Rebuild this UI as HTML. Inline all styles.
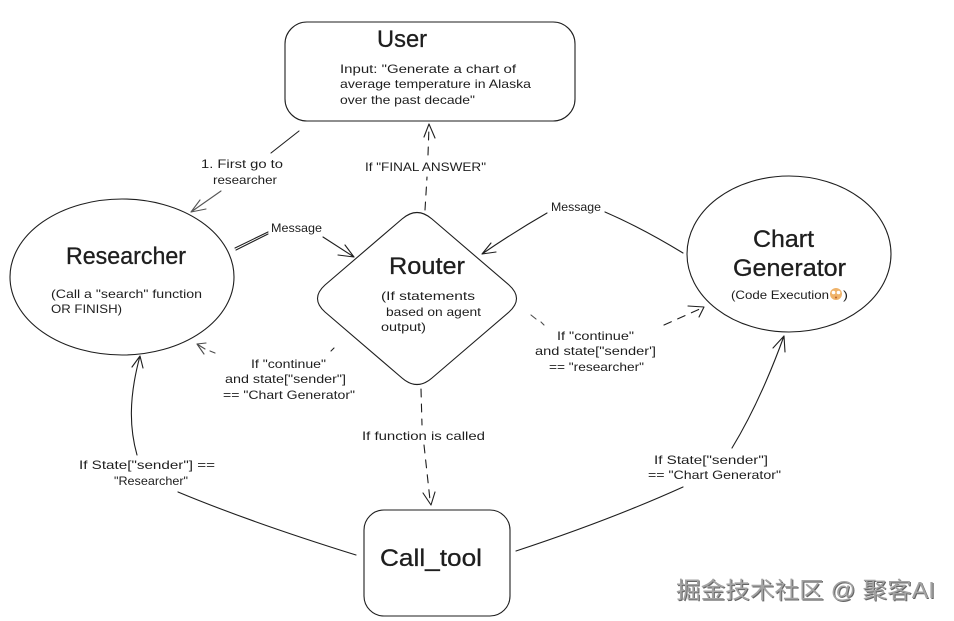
<!DOCTYPE html>
<html>
<head>
<meta charset="utf-8">
<style>
html,body{margin:0;padding:0;background:#fff;width:954px;height:621px;overflow:hidden}
svg{display:block}
text{font-family:"Liberation Sans","Noto Sans CJK SC",sans-serif;fill:#1e1e1e}
.s{font-size:12px}
.h{font-size:24px;stroke:#1e1e1e;stroke-width:.3}
.b{fill:none;stroke:#1e1e1e;stroke-width:1.1;stroke-linecap:round;stroke-linejoin:round}
.d{stroke-dasharray:8 7}
.wm{font-family:"Liberation Sans","Noto Sans CJK SC",sans-serif;font-size:23px}
</style>
</head>
<body>
<svg width="954" height="621" viewBox="0 0 954 621" xmlns="http://www.w3.org/2000/svg">
<rect width="954" height="621" fill="#fff"/>

<!-- Shapes -->
<rect class="b" x="285" y="22" width="290" height="99" rx="22"/>
<ellipse class="b" cx="122" cy="277" rx="112" ry="78"/>
<ellipse class="b" cx="789" cy="254" rx="102" ry="78"/>
<path class="b" d="M402 219 Q417 206 432 219 L509 285 Q524 298.500 509 312 L432 378 Q417 391 402 378 L325 312 Q310 298.500 325 285 Z"/>
<rect class="b" x="364" y="510" width="146" height="106" rx="20"/>

<!-- User to Researcher -->
<path class="b" d="M299 131 L271 153"/>
<path class="b" d="M221 191 L191 212 M200 200 L191 212 L206 209" stroke-opacity=".75"/>

<!-- Final answer -->
<path class="b d" d="M425 210 L427 177"/>
<path class="b d" d="M428 155 L429 126"/>
<path class="b" d="M424 137 L429 124 L435 138"/>

<!-- Message left -->
<path class="b" d="M235 248 L268 232 M236 250 L268 234" stroke-width="1"/>
<path class="b" d="M323 237 L354 257 M345 245 L354 257 L338 255"/>

<!-- Message right -->
<path class="b" d="M683 253 Q642 228 605 212"/>
<path class="b" d="M547 213 Q514 232 482 254 M491 243 L482 254 L496 252"/>

<!-- Router to Call_tool -->
<path class="b d" d="M421 389 L422 425"/>
<path class="b d" d="M424 445 L430 500"/>
<path class="b" d="M423 493 L431 505 L435 492"/>

<!-- continue right -->
<path class="b" d="M531 315 L536 319 M541 322 L544 325" stroke-opacity=".8"/>
<path class="b d" d="M664 325 L702 308"/>
<path class="b" d="M688 306 L704 307 L699 317"/>

<!-- continue left -->
<path class="b" d="M334 348 L331 351"/>
<path class="b" d="M215 353 L210 351 M205 349 L197 344 M206 343 L197 344 L204 354" stroke-opacity=".8"/>

<!-- Call_tool to Researcher -->
<path class="b" d="M356 555 Q250 522 178 492"/>
<path class="b" d="M137 455 C130 430 128 400 140 356 M132 367 L140 356 L143 368"/>

<!-- Call_tool to Chart Generator -->
<path class="b" d="M516 551 Q610 520 683 487"/>
<path class="b" d="M732 448 Q760 402 784 336 M773 348 L784 336 L785 352"/>

<!-- Node labels -->
<text class="h" x="377" y="47" textLength="50" lengthAdjust="spacingAndGlyphs">User</text>
<text class="s" x="340" y="73" textLength="176" lengthAdjust="spacingAndGlyphs">Input: "Generate a chart of</text>
<text class="s" x="340" y="88" textLength="191" lengthAdjust="spacingAndGlyphs">average temperature in Alaska</text>
<text class="s" x="340" y="104" textLength="135" lengthAdjust="spacingAndGlyphs">over the past decade"</text>

<text class="h" x="66" y="264" textLength="120" lengthAdjust="spacingAndGlyphs">Researcher</text>
<text class="s" x="51" y="298" textLength="151" lengthAdjust="spacingAndGlyphs">(Call a "search" function</text>
<text class="s" x="51" y="313" textLength="71" lengthAdjust="spacingAndGlyphs">OR FINISH)</text>

<text class="h" x="389" y="274" textLength="76" lengthAdjust="spacingAndGlyphs">Router</text>
<text class="s" x="381" y="300" textLength="94" lengthAdjust="spacingAndGlyphs">(If statements</text>
<text class="s" x="386" y="316" textLength="95" lengthAdjust="spacingAndGlyphs">based on agent</text>
<text class="s" x="381" y="331" textLength="45" lengthAdjust="spacingAndGlyphs">output)</text>

<text class="h" x="753" y="247" textLength="61" lengthAdjust="spacingAndGlyphs">Chart</text>
<text class="h" x="733" y="276" textLength="113" lengthAdjust="spacingAndGlyphs">Generator</text>
<text class="s" x="731" y="299" textLength="98" lengthAdjust="spacingAndGlyphs">(Code Execution</text>
<circle cx="836" cy="294" r="6" fill="#efb36a"/>
<circle cx="833.500" cy="292.500" r="1.800" fill="#fff"/>
<circle cx="838.500" cy="292.500" r="1.800" fill="#fff"/>
<circle cx="836" cy="297.500" r="1" fill="#b8622e"/>
<text class="s" x="843" y="299" textLength="5" lengthAdjust="spacingAndGlyphs">)</text>

<text class="h" x="380" y="566" textLength="102" lengthAdjust="spacingAndGlyphs">Call_tool</text>

<!-- Connector labels -->
<text class="s" x="201" y="168" textLength="82" lengthAdjust="spacingAndGlyphs">1. First go to</text>
<text class="s" x="213" y="184" textLength="64" lengthAdjust="spacingAndGlyphs">researcher</text>
<text class="s" x="365" y="171" textLength="121" lengthAdjust="spacingAndGlyphs">If "FINAL ANSWER"</text>
<text class="s" x="271" y="232" textLength="51" lengthAdjust="spacingAndGlyphs">Message</text>
<text class="s" x="551" y="211" textLength="50" lengthAdjust="spacingAndGlyphs">Message</text>

<text class="s" x="251" y="368" textLength="75" lengthAdjust="spacingAndGlyphs">If "continue"</text>
<text class="s" x="225" y="383" textLength="121" lengthAdjust="spacingAndGlyphs">and state["sender"]</text>
<text class="s" x="223" y="399" textLength="132" lengthAdjust="spacingAndGlyphs">== "Chart Generator"</text>

<text class="s" x="557" y="340" textLength="77" lengthAdjust="spacingAndGlyphs">If "continue"</text>
<text class="s" x="535" y="355" textLength="121" lengthAdjust="spacingAndGlyphs">and state["sender']</text>
<text class="s" x="549" y="371" textLength="95" lengthAdjust="spacingAndGlyphs">== "researcher"</text>

<text class="s" x="362" y="440" textLength="123" lengthAdjust="spacingAndGlyphs">If function is called</text>

<text class="s" x="79" y="469" textLength="136" lengthAdjust="spacingAndGlyphs">If State["sender"] ==</text>
<text class="s" x="114" y="485" textLength="74" lengthAdjust="spacingAndGlyphs">"Researcher"</text>

<text class="s" x="654" y="464" textLength="114" lengthAdjust="spacingAndGlyphs">If State["sender"]</text>
<text class="s" x="648" y="479" textLength="133" lengthAdjust="spacingAndGlyphs">== "Chart Generator"</text>

<!-- Watermark -->
<text class="wm" x="676" y="598" textLength="259" lengthAdjust="spacingAndGlyphs" style="fill:#a3a3a3;filter:drop-shadow(1px 1px 0 #666)">掘金技术社区 @ 聚客AI</text>
</svg>
</body>
</html>
